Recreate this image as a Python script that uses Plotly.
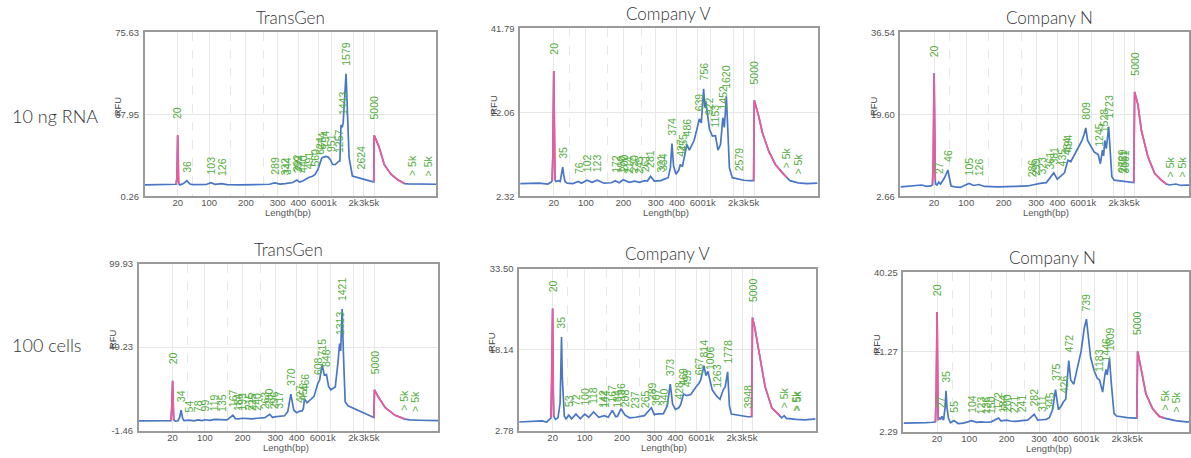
import numpy as np
import plotly.graph_objects as go

# ---------------- sizing scale (bp -> relative migration position) -------------
SCALE_BP = [4, 20, 35, 55, 75, 100, 200, 300, 400, 600, 1000, 2000, 3000, 5000, 100000]
SCALE_POS = [0, 0.113, 0.143, 0.170, 0.195, 0.221, 0.347, 0.456, 0.527, 0.597, 0.641, 0.716, 0.752, 0.787, 1.0]
TICK_BP = [20, 100, 200, 300, 400, 600, 1000, 2000, 3000, 5000]
TICK_TEXT = ["20", "100", "200", "300", "400", "600", "1k", "2k", "3k", "5k"]
MINOR_BP = [50, 150, 250]

ROW_LABELS = ["10 ng RNA", "100 cells"]
TITLES = ["TransGen", "Company V", "Company N", "TransGen", "Company V", "Company N"]

# ---------------- Panel A: TransGen, 10 ng RNA ----------------
A_BP = [4, 8, 12, 16, 18.5, 19.3, 20, 20.7, 21.5, 23, 28, 36, 42, 50, 70, 90, 103, 112, 126, 140,
        180, 230, 270, 289, 310, 332, 344, 370, 392, 410, 440, 491, 530, 560, 590, 624, 674, 730, 794, 870,
        951, 1030, 1120, 1257, 1300, 1345, 1400, 1443, 1510, 1579, 1640, 1740, 1930, 2300, 2624,
        3000, 3800, 4600, 4900, 5000, 6300, 8100, 11200, 15600, 21700, 26000, 40000, 60000, 80000, 100000]
A_RFU = [5.5, 5.6, 5.4, 5.7, 5.8, 9.0, 28.3, 8.0, 6.0, 5.5, 6.0, 7.4, 6.0, 5.6, 5.5, 5.7, 6.5, 5.8, 6.1, 5.6,
         5.5, 5.6, 5.8, 6.4, 5.9, 6.1, 6.2, 6.6, 7.7, 6.8, 7.4, 8.9, 9.5, 10.4, 12.6, 15.6, 17.8, 18.3, 18.6, 18.3,
         17.1, 15.0, 14.8, 16.4, 16.5, 33.0, 32.0, 34.0, 47.0, 56.6, 42.0, 18.0, 9.6, 8.9, 8.7,
         8.0, 7.5, 7.0, 6.9, 28.3, 23.1, 14.9, 10.4, 7.9, 6.1, 6.0, 6.0, 5.7, 6.0, 5.8]
A_MARKERS = [(18.5, 21.5), (4900, 21700)]
A_LABELS = [20, 36, 103, 126, 289, 332, 344, 392, 399, 440, 491, 560, 624, 674, 794, 951, 1257, 1443, 1579, 2624, 5000]
A_GT5K = [32000, 66000]
A_YTICKS = [0.26, 37.95, 75.63]

# ---------------- Panel B: Company V, 10 ng RNA ----------------
B_BP = [4, 10, 15, 17.5, 18.5, 19.2, 20, 20.8, 21.6, 23, 27, 30, 33, 35, 37, 40, 45, 60, 76, 85,
        102, 112, 123, 140, 160, 172, 185, 200, 215, 230, 245, 261, 270, 281, 295, 321, 334, 355, 366, 374,
        382, 395, 415, 427, 445, 466, 486, 510, 560, 600, 639, 690, 730, 756, 790, 822, 870, 950, 1050, 1153,
        1250, 1350, 1400, 1452, 1520, 1570, 1620, 1680, 1780, 1950, 2200, 2579, 3000, 4000, 4850,
        5000, 6200, 7300, 10000, 13600, 18500, 23500, 27000, 40000, 60000, 100000]
B_RFU = [5.3, 5.4, 5.2, 5.6, 6.0, 12.0, 31.8, 12.0, 6.2, 5.8, 6.0, 5.8, 7.5, 9.2, 7.4, 5.8, 5.4, 5.3, 5.8, 5.4,
         6.1, 5.6, 6.1, 5.4, 5.5, 6.0, 5.5, 6.2, 5.6, 5.9, 5.6, 6.0, 5.9, 7.0, 5.9, 6.0, 6.3, 6.7, 9.0, 14.7,
         9.5, 7.5, 8.5, 9.8, 9.3, 12.5, 14.5, 13.2, 15.5, 18.9, 20.5, 19.6, 24.0, 27.6, 23.2, 24.6, 22.0, 18.1, 16.5, 16.6,
         13.2, 14.5, 17.5, 20.8, 18.5, 22.0, 25.8, 19.5, 9.0, 6.7, 6.5, 6.3, 6.1, 6.0, 6.0,
         24.9, 21.1, 17.4, 12.8, 9.8, 7.9, 6.7, 6.0, 5.5, 5.3, 5.4]
B_MARKERS = [(18.5, 21.6), (4850, 23500)]
B_LABELS = [20, 35, 76, 102, 123, 172, 190, 200, 214, 230, 245, 261, 281, 321, 334, 374, 427, 455, 486,
            639, 756, 922, 1153, 1452, 1620, 2579, 5000]
B_GT5K = [22000, 40000]
B_YTICKS = [2.32, 22.06, 41.79]

# ---------------- Panel C: Company N, 10 ng RNA ----------------
C_BP = [4, 8, 11, 14, 17, 18.5, 19.2, 20, 20.8, 21.5, 22, 24, 27, 30, 38, 46, 50, 55, 65, 80,
        90, 105, 115, 126, 140, 180, 230, 270, 286, 299, 323, 345, 361, 381, 400, 435, 460, 484, 494, 520,
        600, 700, 760, 809, 870, 950, 1100, 1245, 1330, 1420, 1470, 1528, 1600, 1723, 1800,
        1900, 2050, 2729, 2851, 3061, 4000, 4800, 5000, 5850, 6900, 9400, 12900, 17600, 22400, 26000,
        35000, 45000, 60000, 100000]
C_RFU = [4.6, 4.8, 5.0, 4.7, 4.8, 5.0, 10.0, 28.1, 9.0, 6.0, 5.2, 5.0, 5.6, 5.2, 6.5, 8.1, 6.5, 4.8, 4.6, 4.5,
         4.8, 5.3, 4.9, 5.1, 4.7, 4.6, 4.7, 4.8, 5.0, 5.2, 5.4, 5.5, 6.5, 7.5, 6.2, 7.1, 7.5, 9.5, 10.1, 9.8,
         12.8, 14.2, 15.5, 16.8, 14.2, 13.4, 11.8, 11.3, 9.4, 12.2, 11.0, 14.2, 12.5, 17.0, 11.5,
         6.7, 6.0, 5.8, 5.7, 5.6, 5.5, 5.5, 24.2, 21.6, 16.2, 10.8, 7.4, 6.0, 5.2, 5.0,
         5.2, 4.9, 5.0, 4.9]
C_MARKERS = [(18.5, 21.5), (4800, 22400)]
C_LABELS = [20, 27, 46, 105, 126, 286, 299, 323, 361, 381, 435, 484, 494, 809, 1245, 1528, 1723,
            2729, 2851, 3061, 5000]
C_GT5K = [26600, 46000, 68600]
C_YTICKS = [2.66, 19.60, 36.54]

# ---------------- Panel D: TransGen, 100 cells ----------------
D_BP = [4, 8, 12, 16, 18.5, 19.2, 20, 20.8, 21.5, 24, 28, 31, 34, 37, 40, 54, 65, 78, 90, 99,
        110, 119, 135, 150, 167, 175, 184, 199, 215, 225, 240, 263, 280, 290, 296, 317, 340, 355, 370, 385,
        400, 427, 445, 456, 466, 490, 560, 608, 650, 715, 780, 848, 920, 1000, 1150,
        1250, 1313, 1360, 1421, 1480, 1560, 1700, 2000, 3000, 4500, 4850, 5000, 6000, 8300, 13200,
        21000, 26000, 40000, 60000, 100000]
D_RFU = [4.4, 4.5, 4.6, 4.3, 4.6, 12.0, 28.8, 12.0, 5.0, 4.3, 4.5, 6.5, 11.0, 6.0, 4.6, 4.9, 4.4, 5.0, 4.6, 5.1,
         4.7, 5.3, 5.2, 5.0, 7.8, 5.8, 5.6, 6.0, 5.8, 5.6, 6.0, 6.4, 8.4, 6.5, 6.8, 7.2, 7.5, 10.0, 20.7, 11.0,
         9.4, 10.4, 10.5, 12.0, 17.8, 15.4, 19.3, 27.3, 29.2, 38.7, 32.2, 32.6, 25.3, 23.3, 25.0,
         40.0, 51.4, 47.0, 72.4, 45.0, 16.0, 13.6, 12.2, 9.4, 6.9, 6.5, 23.3, 18.9, 12.4, 7.8,
         5.5, 5.0, 4.8, 4.6, 4.6]
D_MARKERS = [(18.5, 21.5), (4850, 21000)]
D_LABELS = [20, 34, 54, 78, 99, 119, 135, 167, 184, 199, 215, 225, 240, 263, 280, 296, 317, 370, 427,
            456, 466, 608, 715, 848, 1313, 1421, 5000]
D_GT5K = [20400, 32500]
D_YTICKS = [-1.46, 49.23, 99.93]

# ---------------- Panel E: Company V, 100 cells ----------------
E_BP = [4, 8, 12, 15, 17, 18.5, 19.2, 20, 20.8, 21.5, 24, 28, 32, 35, 36.5, 38, 41, 45, 53, 60,
        72, 85, 100, 108, 118, 130, 142, 144, 155, 167, 178, 184, 196, 208, 220, 237, 265, 289, 300, 307,
        340, 358, 373, 385, 400, 428, 445, 469, 499, 540, 600, 667, 720, 814, 880, 950, 1006, 1100, 1263, 1400,
        1550, 1650, 1778, 1880, 2000, 3000, 3948, 4800, 5000, 5600, 7200, 9100, 12500, 17200, 18500,
        20000, 22500, 25000, 40000, 60000, 100000]
E_RFU = [4.4, 4.5, 4.6, 4.4, 4.8, 5.2, 12.0, 25.9, 10.0, 5.5, 4.9, 5.2, 8.0, 20.5, 13.0, 9.9, 5.5, 5.0, 5.7, 5.0,
         5.9, 5.0, 5.9, 5.3, 6.3, 5.3, 5.5, 5.6, 5.3, 6.6, 5.4, 5.5, 6.9, 5.7, 5.2, 5.3, 5.6, 7.1, 5.8, 5.9,
         6.0, 7.5, 11.6, 7.8, 6.8, 7.1, 7.8, 9.7, 9.4, 9.6, 11.1, 11.7, 12.4, 15.1, 13.2, 14.0, 12.8, 10.5, 9.3, 8.7,
         10.5, 11.1, 13.9, 7.4, 5.9, 5.5, 5.4, 5.4, 24.2, 22.2, 16.1, 11.1, 7.1, 5.9, 5.6,
         5.2, 5.6, 5.1, 4.9, 4.8, 5.0]
E_MARKERS = [(18.5, 21.5), (4800, 18500)]
E_LABELS = [20, 35, 53, 72, 100, 118, 142, 144, 167, 184, 196, 208, 237, 265, 289, 307, 340, 373, 428,
            469, 499, 667, 814, 1006, 1263, 1778, 3948, 5000]
E_GT5K = [22000, 39000, 42000]
E_YTICKS = [2.78, 18.14, 33.50]

# ---------------- Panel F: Company N, 100 cells ----------------
F_BP = [4, 8, 12, 16, 18.5, 19.2, 20, 20.8, 21.5, 23, 25, 27, 30, 33, 35, 37, 40, 45, 55, 65,
        80, 95, 104, 115, 123, 136, 150, 172, 180, 184, 200, 210, 221, 241, 260, 282, 295, 311, 330, 345,
        360, 375, 390, 410, 426, 445, 472, 490, 520, 600, 680, 739, 800, 870, 1000, 1100, 1183, 1300, 1400, 1446,
        1500, 1609, 1700, 1850, 2000, 3000, 4500, 4800, 5000, 5850, 7400, 10100, 13900, 17600, 22000,
        30000, 50000, 100000]
F_RFU = [4.3, 4.3, 4.4, 4.5, 4.6, 12.0, 30.8, 10.0, 5.0, 5.5, 5.3, 5.9, 5.0, 8.0, 12.0, 8.0, 5.5, 4.4, 4.9, 4.2,
         4.3, 4.6, 4.9, 4.5, 4.6, 4.5, 4.6, 5.5, 4.8, 4.9, 5.0, 4.8, 4.7, 4.9, 5.0, 6.4, 5.0, 5.1, 5.2, 5.6,
         7.5, 12.3, 7.5, 8.5, 9.4, 10.0, 19.2, 14.6, 13.6, 21.4, 27.0, 29.1, 25.0, 20.0, 16.8, 15.0, 14.6, 11.7, 16.0, 17.1,
         15.8, 19.7, 14.0, 6.6, 6.0, 5.6, 5.5, 5.5, 21.4, 17.5, 11.3, 7.8, 5.9, 5.5, 5.2,
         4.9, 4.6, 4.5]
F_MARKERS = [(18.5, 21.5), (4800, 17600)]
F_LABELS = [20, 27, 35, 55, 104, 123, 136, 150, 172, 184, 200, 221, 241, 282, 311, 345, 375, 426, 472,
            739, 1183, 1446, 1609, 5000]
F_GT5K = [18000, 31000]
F_YTICKS = [2.29, 21.27, 40.25]

DATA = [
    (A_BP, A_RFU, A_MARKERS, A_LABELS, A_GT5K, A_YTICKS),
    (B_BP, B_RFU, B_MARKERS, B_LABELS, B_GT5K, B_YTICKS),
    (C_BP, C_RFU, C_MARKERS, C_LABELS, C_GT5K, C_YTICKS),
    (D_BP, D_RFU, D_MARKERS, D_LABELS, D_GT5K, D_YTICKS),
    (E_BP, E_RFU, E_MARKERS, E_LABELS, E_GT5K, E_YTICKS),
    (F_BP, F_RFU, F_MARKERS, F_LABELS, F_GT5K, F_YTICKS),
]

# ---------------- layout (pixel boxes: left, top, bottom, nominal width) ----------------
W, H = 1191, 458
BOXES = [
    (145, 27, 195, 292),
    (521, 23, 195, 298),
    (902, 27, 195, 298),
    (139, 264, 435, 300),
    (520, 269, 435, 297),
    (905, 273, 436, 298),
]
BLUE = "#4a76c6"
PINK = "#ec5a9c"
GREEN = "#52ad3c"
GRID = "#e8e8e8"
TICK_FONT = dict(family="Liberation Sans, Arial", size=9.5, color="#555555")
HEAD_FONT = "Lato, Open Sans"


def pos(bp):
    return np.interp(np.log10(np.asarray(bp, dtype=float)), np.log10(SCALE_BP), SCALE_POS)


fig = go.Figure()
annotations = []

for i, (bp, rfu, markers, labels, gt5k, yt) in enumerate(DATA):
    n = "" if i == 0 else str(i + 1)
    xa, ya = "x" + n, "y" + n
    bp = np.asarray(bp, dtype=float)
    rfu = np.asarray(rfu, dtype=float)
    xp = pos(bp)
    fig.add_trace(go.Scatter(x=xp, y=rfu, xaxis=xa, yaxis=ya, mode="lines",
                             line=dict(color=BLUE, width=1.7), hoverinfo="skip", showlegend=False))
    for lo, hi in markers:
        m = (bp >= lo) & (bp <= hi)
        fig.add_trace(go.Scatter(x=xp[m], y=rfu[m], xaxis=xa, yaxis=ya, mode="lines",
                                 line=dict(color=PINK, width=1.7), hoverinfo="skip", showlegend=False))

    left, top, bottom, width = BOXES[i]
    right = left + width
    x_end = min(right, W)
    xr = (x_end - left) / width
    fig.layout["xaxis" + n] = dict(
        domain=[left / W, x_end / W], anchor=ya, range=[0, xr],
        tickmode="array", tickvals=list(pos(TICK_BP)), ticktext=TICK_TEXT, ticks="", tickangle=0,
        tickfont=TICK_FONT, ticklabelstandoff=-3, showgrid=True, gridcolor=GRID, gridwidth=1, zeroline=False,
        showline=True, linecolor="#9a9a9a", linewidth=1.5, mirror=True,
        minor=dict(tickmode="array", tickvals=list(pos(MINOR_BP)), showgrid=True,
                   gridcolor=GRID, griddash="dash", ticks=""),
        fixedrange=True,
    )
    fig.layout["yaxis" + n] = dict(
        domain=[1 - bottom / H, 1 - top / H], anchor=xa, range=[yt[0], yt[2]],
        tickmode="array", tickvals=yt, ticktext=[f"{v:.2f}" for v in yt], ticks="",
        tickfont=TICK_FONT, showgrid=True, gridcolor=GRID, zeroline=False,
        showline=True, linecolor="#9a9a9a", linewidth=1.5, mirror=True, ticklabelstandoff=2,
        fixedrange=True,
    )

    # peak labels
    for lb in labels:
        yv = float(np.interp(pos(lb), xp, rfu))
        annotations.append(dict(x=float(pos(lb)), y=yv, xref=xa, yref=ya, text=str(lb),
                                textangle=-90, showarrow=False, xanchor="center", yanchor="bottom",
                                yshift=14 if lb in (20, 5000) else 6,
                                font=dict(family="Liberation Sans, Arial", size=10.5, color=GREEN)))
    for g in gt5k:
        yv = float(np.interp(pos(g), xp, rfu))
        annotations.append(dict(x=float(pos(g)), y=yv, xref=xa, yref=ya, text="&gt; 5k",
                                textangle=-90, showarrow=False, xanchor="center", yanchor="bottom",
                                yshift=6, font=dict(family="Liberation Sans, Arial", size=10.5, color=GREEN)))

    # title, RFU, Length(bp)
    annotations.append(dict(x=(left + width / 2) / W, y=1 - (top - 15) / H, xref="paper", yref="paper",
                            text=TITLES[i], showarrow=False, xanchor="center", yanchor="middle",
                            font=dict(family=HEAD_FONT, size=17, color="#333333", weight=300)))
    mid = (top + bottom) / 2
    annotations.append(dict(x=(left - 27) / W, y=1 - (mid - 8) / H, xref="paper", yref="paper",
                            text="RFU", textangle=-90, showarrow=False, xanchor="center", yanchor="middle",
                            font=dict(family="Liberation Sans, Arial", size=9.5, color="#444444")))
    annotations.append(dict(x=(left + 0.49 * width) / W, y=1 - (bottom + 17) / H, xref="paper", yref="paper",
                            text="Length(bp)", showarrow=False, xanchor="center", yanchor="middle",
                            font=dict(family="Liberation Sans, Arial", size=9.5, color="#555555")))

for label, yc in zip(ROW_LABELS, [113, 347]):
    annotations.append(dict(x=10 / W, y=1 - yc / H, xref="paper", yref="paper", text=label,
                            showarrow=False, xanchor="left", yanchor="middle",
                            font=dict(family=HEAD_FONT, size=18, color="#333333", weight=300)))

fig.update_layout(width=W, height=H, margin=dict(l=0, r=0, t=0, b=0),
                  paper_bgcolor="white", plot_bgcolor="white", annotations=annotations,
                  showlegend=False)
fig.write_html("out.html", config={"displayModeBar": False},
               post_script="document.body.style.margin='0';document.body.style.overflow='hidden';")
